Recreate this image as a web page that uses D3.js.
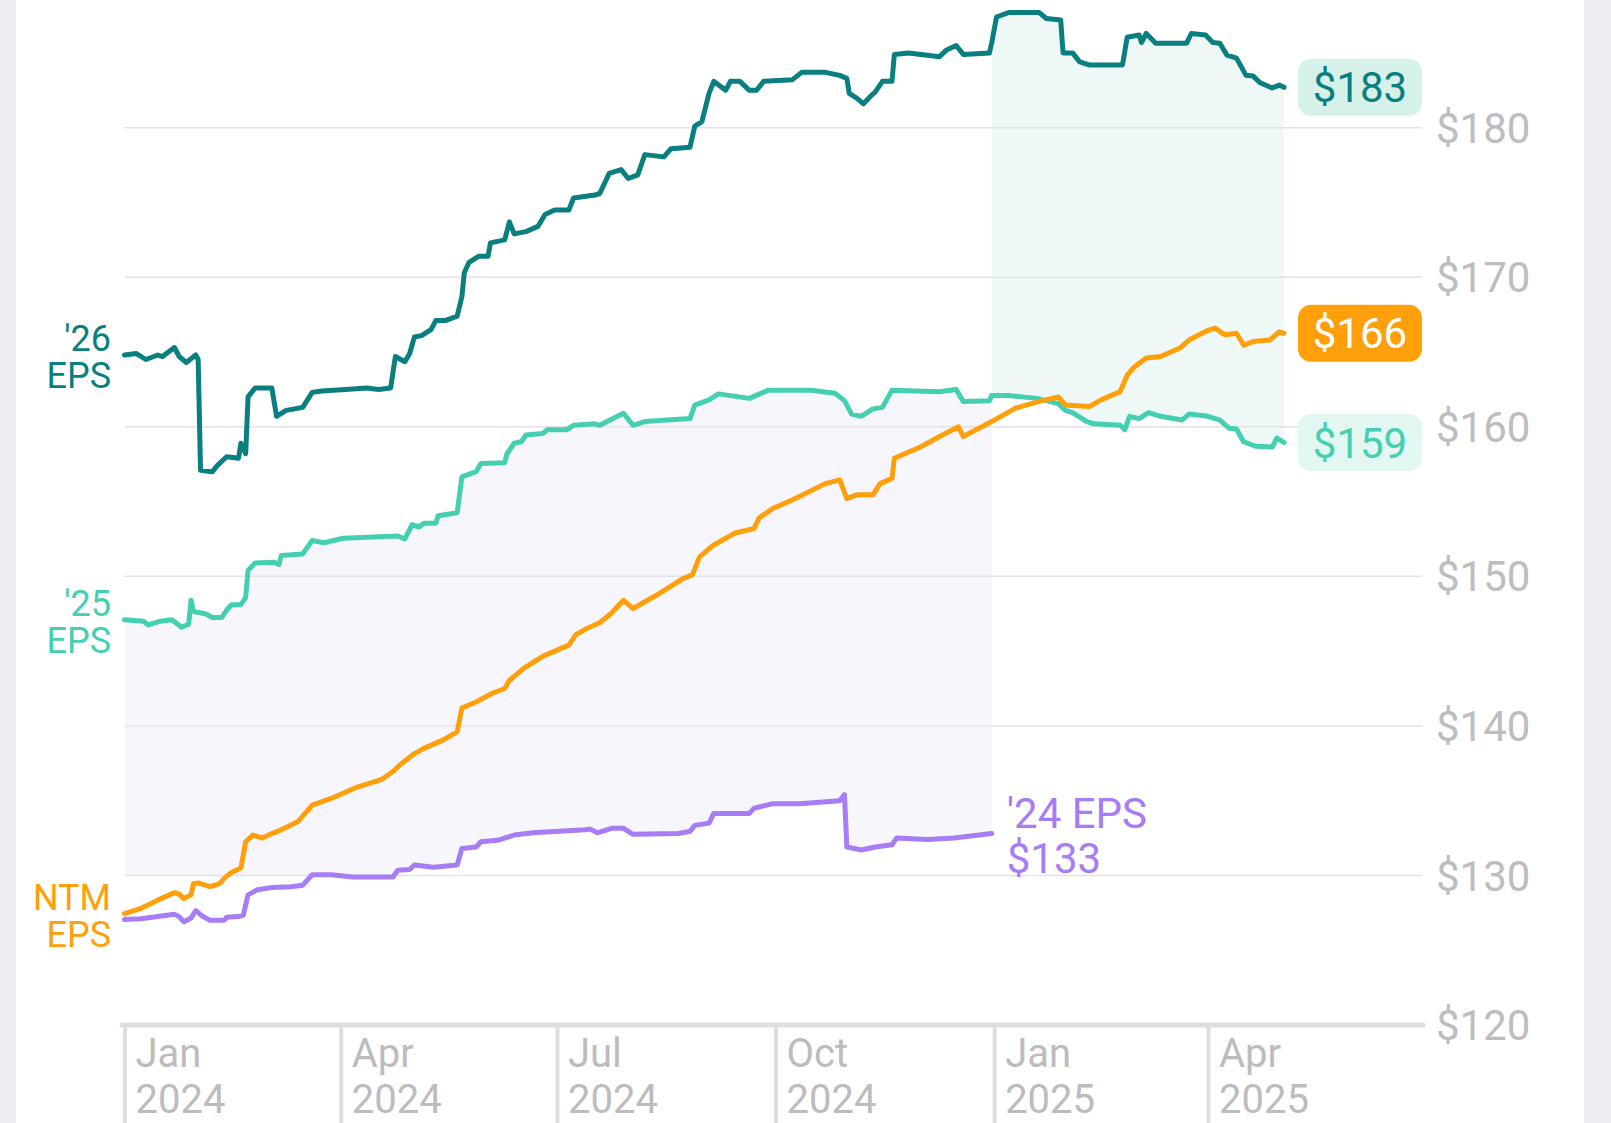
<!DOCTYPE html>
<html>
<head>
<meta charset="utf-8">
<script src="https://cdn.jsdelivr.net/npm/d3@7"></script>
<style>
  html, body { margin: 0; padding: 0; background: #fff; }
  svg { display: block; font-family: Roboto, "Noto Sans", sans-serif; }
</style>
</head>
<body>
<div id="chart"></div>
<script>

// FY2026 EPS estimate
const eps26 = [
  ["2024-01-01",164.8],["2024-01-06",164.9],["2024-01-10",164.5],["2024-01-15",164.8],["2024-01-17",164.7],
  ["2024-01-22",165.3],["2024-01-24",164.7],["2024-01-27",164.3],["2024-01-31",164.8],["2024-02-01",164.5],
  ["2024-02-02",157.1],["2024-02-07",157.0],["2024-02-09",157.4],["2024-02-13",158.0],["2024-02-18",157.9],
  ["2024-02-19",158.9],["2024-02-21",158.2],["2024-02-22",162.0],["2024-02-25",162.6],["2024-03-03",162.6],
  ["2024-03-05",160.7],["2024-03-09",161.1],["2024-03-16",161.3],["2024-03-20",162.3],["2024-03-24",162.4],
  ["2024-04-03",162.5],["2024-04-12",162.6],["2024-04-17",162.5],["2024-04-22",162.6],["2024-04-24",164.7],
  ["2024-04-28",164.35],["2024-04-30",164.9],["2024-05-02",166.0],["2024-05-05",166.1],["2024-05-09",166.5],
  ["2024-05-11",167.1],["2024-05-15",167.1],["2024-05-20",167.4],["2024-05-22",168.7],["2024-05-23",170.3],
  ["2024-05-25",171.0],["2024-05-29",171.4],["2024-06-02",171.4],["2024-06-03",172.3],["2024-06-09",172.5],
  ["2024-06-11",173.7],["2024-06-13",172.9],["2024-06-18",173.05],["2024-06-23",173.4],["2024-06-26",174.2],
  ["2024-06-30",174.5],["2024-07-06",174.5],["2024-07-08",175.3],["2024-07-17",175.5],["2024-07-19",175.6],
  ["2024-07-23",176.95],["2024-07-28",177.2],["2024-07-31",176.6],["2024-08-04",176.85],["2024-08-07",178.2],
  ["2024-08-15",178.05],["2024-08-18",178.6],["2024-08-26",178.7],["2024-08-28",180.1],["2024-08-31",180.4],
  ["2024-09-03",182.3],["2024-09-05",183.1],["2024-09-10",182.5],["2024-09-12",183.1],["2024-09-16",183.1],
  ["2024-09-20",182.5],["2024-09-23",182.5],["2024-09-26",183.1],["2024-10-08",183.2],["2024-10-12",183.7],
  ["2024-10-22",183.7],["2024-10-28",183.5],["2024-10-31",183.3],["2024-11-01",182.3],["2024-11-04",182.0],
  ["2024-11-07",181.6],["2024-11-10",182.1],["2024-11-12",182.4],["2024-11-15",183.1],["2024-11-19",183.1],
  ["2024-11-20",184.9],["2024-11-26",185.0],["2024-12-09",184.75],["2024-12-12",185.2],["2024-12-16",185.5],
  ["2024-12-19",184.9],["2024-12-30",185.0],["2024-12-31",185.7],["2025-01-02",187.4],["2025-01-07",187.7],
  ["2025-01-20",187.7],["2025-01-23",187.3],["2025-01-29",187.2],["2025-01-30",185.0],["2025-02-03",185.0],
  ["2025-02-06",184.4],["2025-02-10",184.2],["2025-02-24",184.2],["2025-02-26",186.05],["2025-03-03",186.2],
  ["2025-03-04",185.7],["2025-03-06",186.3],["2025-03-10",185.65],["2025-03-23",185.65],["2025-03-25",186.3],
  ["2025-03-31",186.2],["2025-04-03",185.7],["2025-04-06",185.65],["2025-04-09",184.85],["2025-04-13",184.65],
  ["2025-04-17",183.5],["2025-04-20",183.45],["2025-04-23",183.0],["2025-04-28",182.65],["2025-05-01",182.85],
  ["2025-05-03",182.7]
];

// FY2025 EPS estimate
const eps25 = [
  ["2024-01-01",147.1],["2024-01-09",147.0],["2024-01-11",146.75],["2024-01-16",147.0],["2024-01-21",147.1],
  ["2024-01-25",146.6],["2024-01-28",146.8],["2024-01-29",148.4],["2024-01-30",147.65],["2024-02-04",147.5],
  ["2024-02-07",147.25],["2024-02-11",147.25],["2024-02-13",147.75],["2024-02-15",148.1],["2024-02-19",148.1],
  ["2024-02-21",148.6],["2024-02-22",150.4],["2024-02-25",150.9],["2024-03-04",150.95],["2024-03-06",150.8],
  ["2024-03-07",151.4],["2024-03-16",151.5],["2024-03-20",152.4],["2024-03-25",152.25],["2024-04-02",152.55],
  ["2024-04-25",152.7],["2024-04-28",152.5],["2024-05-01",153.45],["2024-05-04",153.3],["2024-05-06",153.55],
  ["2024-05-11",153.55],["2024-05-12",154.05],["2024-05-20",154.25],["2024-05-22",156.65],["2024-05-28",157.0],
  ["2024-05-30",157.55],["2024-06-09",157.6],["2024-06-10",158.2],["2024-06-13",158.9],["2024-06-16",159.0],
  ["2024-06-18",159.45],["2024-06-25",159.55],["2024-06-27",159.8],["2024-07-05",159.8],["2024-07-08",160.1],
  ["2024-07-17",160.2],["2024-07-19",160.1],["2024-07-29",160.9],["2024-08-02",160.1],["2024-08-07",160.35],
  ["2024-08-26",160.55],["2024-08-28",161.45],["2024-09-03",161.8],["2024-09-07",162.2],["2024-09-20",161.9],
  ["2024-09-28",162.45],["2024-10-16",162.45],["2024-10-26",162.25],["2024-10-30",161.75],["2024-11-02",160.85],
  ["2024-11-06",160.7],["2024-11-11",161.2],["2024-11-15",161.3],["2024-11-19",162.45],["2024-12-09",162.35],
  ["2024-12-16",162.5],["2024-12-19",161.7],["2024-12-30",161.75],["2024-12-31",162.1],["2025-01-07",162.1],
  ["2025-01-19",161.9],["2025-01-28",161.55],["2025-01-31",161.1],["2025-02-03",160.95],["2025-02-09",160.35],
  ["2025-02-12",160.2],["2025-02-23",160.1],["2025-02-25",159.8],["2025-02-27",160.7],["2025-03-03",160.55],
  ["2025-03-07",160.95],["2025-03-12",160.7],["2025-03-21",160.45],["2025-03-24",160.85],["2025-04-01",160.7],
  ["2025-04-06",160.45],["2025-04-10",159.9],["2025-04-13",159.85],["2025-04-16",159.0],["2025-04-21",158.7],
  ["2025-04-28",158.65],["2025-04-30",159.25],["2025-05-03",158.95]
];

// next twelve months EPS
const epsNtm = [
  ["2024-01-01",127.45],["2024-01-08",127.8],["2024-01-15",128.35],["2024-01-22",128.85],["2024-01-24",128.75],
  ["2024-01-26",128.45],["2024-01-29",128.7],["2024-01-30",129.45],["2024-02-01",129.5],["2024-02-06",129.25],
  ["2024-02-10",129.45],["2024-02-12",129.8],["2024-02-15",130.2],["2024-02-19",130.5],["2024-02-21",132.25],
  ["2024-02-24",132.7],["2024-02-28",132.5],["2024-03-03",132.8],["2024-03-07",133.05],["2024-03-14",133.6],
  ["2024-03-20",134.7],["2024-03-28",135.15],["2024-04-07",135.85],["2024-04-18",136.4],["2024-04-23",136.95],
  ["2024-04-26",137.4],["2024-05-02",138.15],["2024-05-06",138.5],["2024-05-14",139.05],["2024-05-20",139.6],
  ["2024-05-22",141.2],["2024-05-28",141.6],["2024-06-04",142.2],["2024-06-09",142.5],["2024-06-11",143.05],
  ["2024-06-17",143.85],["2024-06-25",144.65],["2024-07-06",145.4],["2024-07-09",146.1],["2024-07-14",146.55],
  ["2024-07-19",146.9],["2024-07-24",147.55],["2024-07-29",148.4],["2024-08-02",147.85],["2024-08-07",148.3],
  ["2024-08-13",148.85],["2024-08-23",149.85],["2024-08-27",150.1],["2024-08-30",151.3],["2024-09-05",152.1],
  ["2024-09-14",152.9],["2024-09-22",153.2],["2024-09-24",153.9],["2024-09-30",154.55],["2024-10-08",155.1],
  ["2024-10-22",156.2],["2024-10-28",156.45],["2024-10-31",155.2],["2024-11-04",155.45],["2024-11-11",155.45],
  ["2024-11-14",156.2],["2024-11-19",156.55],["2024-11-20",157.9],["2024-12-01",158.65],["2024-12-09",159.35],
  ["2024-12-17",160.0],["2024-12-19",159.35],["2024-12-31",160.35],["2025-01-10",161.25],["2025-01-20",161.7],
  ["2025-01-28",162.0],["2025-01-31",161.45],["2025-02-10",161.35],["2025-02-15",161.8],["2025-02-23",162.35],
  ["2025-02-26",163.45],["2025-03-01",164.0],["2025-03-06",164.6],["2025-03-12",164.7],["2025-03-20",165.25],
  ["2025-03-24",165.8],["2025-04-01",166.45],["2025-04-04",166.6],["2025-04-08",166.15],["2025-04-13",166.25],
  ["2025-04-16",165.45],["2025-04-20",165.7],["2025-04-27",165.8],["2025-05-01",166.35],["2025-05-03",166.25]
];

// FY2024 EPS (ends with the fiscal year)
const eps24 = [
  ["2024-01-01",127.05],["2024-01-08",127.1],["2024-01-15",127.25],["2024-01-22",127.4],["2024-01-24",127.25],
  ["2024-01-26",126.9],["2024-01-29",127.15],["2024-01-31",127.65],["2024-02-03",127.25],["2024-02-06",127.0],
  ["2024-02-12",127.0],["2024-02-13",127.2],["2024-02-18",127.25],["2024-02-20",127.35],["2024-02-22",128.7],
  ["2024-02-26",129.05],["2024-03-03",129.2],["2024-03-11",129.25],["2024-03-16",129.35],["2024-03-20",130.05],
  ["2024-03-28",130.05],["2024-04-06",129.9],["2024-04-17",129.9],["2024-04-23",129.9],["2024-04-25",130.35],
  ["2024-04-30",130.4],["2024-05-02",130.7],["2024-05-10",130.55],["2024-05-20",130.7],["2024-05-22",131.8],
  ["2024-05-28",131.9],["2024-05-30",132.25],["2024-06-06",132.35],["2024-06-13",132.7],["2024-06-21",132.85],
  ["2024-07-13",133.05],["2024-07-15",133.1],["2024-07-18",132.85],["2024-07-24",133.15],["2024-07-29",133.15],
  ["2024-08-02",132.75],["2024-08-21",132.8],["2024-08-26",132.95],["2024-08-28",133.35],["2024-09-03",133.5],
  ["2024-09-05",134.15],["2024-09-20",134.15],["2024-09-22",134.5],["2024-09-30",134.8],["2024-10-11",134.8],
  ["2024-10-28",135.0],["2024-10-30",135.4],["2024-10-31",131.9],["2024-11-06",131.7],["2024-11-12",131.9],
  ["2024-11-19",132.05],["2024-11-21",132.5],["2024-12-04",132.4],["2024-12-15",132.5],["2024-12-31",132.8]
];

const yTicks = [120, 130, 140, 150, 160, 170, 180];
const xTickDates = ["2024-01-01","2024-04-01","2024-07-01","2024-10-01","2025-01-01","2025-04-01"];
const fyBreak = "2024-12-31";
const shadeFloor = 130;


const W = 1611, H = 1123;
const parse = d3.utcParse("%Y-%m-%d");
const prep = arr => arr.map(d => ({date: parse(d[0]), value: d[1]}));

const s26 = prep(eps26), s25 = prep(eps25), sNtm = prep(epsNtm), s24 = prep(eps24);
const breakDate = parse(fyBreak);

let x = d3.scaleUtc()
    .domain([parse("2024-01-01"), parse("2025-04-01")])
    .range([124.5, 1208]);

let y = d3.scaleLinear()
    .domain([120, 180])
    .range([1025, 127.7]);

let svg = d3.select("#chart")
    .append("svg")
    .attr("width", W)
    .attr("height", H);

// grey side strips of the card
svg.append("rect").attr("x", 0).attr("y", 0).attr("width", 16).attr("height", H).attr("fill", "#eeeef2");
svg.append("rect").attr("x", 1584).attr("y", 0).attr("width", W - 1584).attr("height", H).attr("fill", "#eeeef2");

// linear lookup of a series at any date
const bis = d3.bisector(d => d.date).left;
function valueAt(s, t) {
    let i = bis(s, t);
    if (i <= 0) return s[0].value;
    if (i >= s.length) return s[s.length - 1].value;
    let a = s[i - 1], b = s[i];
    let k = (t - a.date) / (b.date - a.date);
    return a.value + k * (b.value - a.value);
}

function mergedDates(a, b, from, to) {
    let ts = [...a, ...b].map(d => +d.date).filter(t => t >= +from && t <= +to);
    ts.push(+from, +to);
    return Array.from(new Set(ts)).sort((p, q) => p - q).map(t => new Date(t));
}

// FY2024 band: between '25 and '24 (floored)
let start = s25[0].date;
let band24 = mergedDates(s25, s24, start, breakDate);
svg.append("path")
    .datum(band24)
    .attr("fill", "#f8f6fd")
    .attr("d", d3.area()
        .x(d => x(d))
        .y0(d => y(Math.max(valueAt(s24, d), shadeFloor)))
        .y1(d => y(valueAt(s25, d))));

// FY2025 band: between '26 and '25
let end = s26[s26.length - 1].date;
let band25 = mergedDates(s26, s25, breakDate, end);
svg.append("path")
    .datum(band25)
    .attr("fill", "#eef8f6")
    .attr("d", d3.area()
        .x(d => x(d))
        .y0(d => y(valueAt(s25, d)))
        .y1(d => y(valueAt(s26, d))));

// gridlines
svg.append("g")
    .selectAll("line")
    .data(yTicks.filter(v => v > 120))
    .enter().append("line")
    .attr("x1", 125).attr("x2", 1422)
    .attr("y1", d => y(d)).attr("y2", d => y(d))
    .attr("stroke", "#e3e3e7")
    .attr("stroke-width", 1.5);

// y labels on the right
svg.append("g")
    .selectAll("text")
    .data(yTicks)
    .enter().append("text")
    .attr("x", 1436)
    .attr("y", d => y(d))
    .attr("dy", "0.36em")
    .attr("font-size", 42)
    .attr("fill", "#bdbdc1")
    .text(d => "$" + d);

// bottom axis
let xAxis = d3.axisBottom(x)
    .tickValues(xTickDates.map(parse))
    .tickSize(H - y(120))
    .tickFormat("");

let gx = svg.append("g")
    .attr("transform", "translate(0," + y(120) + ")")
    .call(xAxis);
gx.select(".domain").remove();
gx.selectAll(".tick line").attr("stroke", "#dedee0").attr("stroke-width", 4);

svg.append("line")
    .attr("x1", 122).attr("x2", 1423)
    .attr("y1", y(120)).attr("y2", y(120))
    .attr("stroke", "#dedee0")
    .attr("stroke-width", 5)
    .attr("stroke-linecap", "round");

let fmtMon = d3.utcFormat("%b"), fmtYear = d3.utcFormat("%Y");
let xl = svg.append("g")
    .selectAll("text")
    .data(xTickDates.map(parse))
    .enter().append("text")
    .attr("font-size", 40)
    .attr("fill", "#bcbcc0");
xl.append("tspan").attr("x", d => x(d) + 11).attr("y", 1067).text(d => fmtMon(d));
xl.append("tspan").attr("x", d => x(d) + 11).attr("y", 1113).text(d => fmtYear(d));

// series lines
const seriesStyle = [
    {s: s24, color: "#a77cf5"},
    {s: s25, color: "#45cfb1"},
    {s: s26, color: "#0a7f80"},
    {s: sNtm, color: "#ff9f0a"}
];

let line = d3.line().x(d => x(d.date)).y(d => y(d.value));
seriesStyle.forEach(o => {
    svg.append("path")
        .datum(o.s)
        .attr("fill", "none")
        .attr("stroke", o.color)
        .attr("stroke-width", 5)
        .attr("stroke-linejoin", "round")
        .attr("stroke-linecap", "round")
        .attr("d", line);
});

// left side labels, centred on the first value
const leftLabels = [
    {s: s26, lines: ["'26", "EPS"], color: "#0a7f80"},
    {s: s25, lines: ["'25", "EPS"], color: "#45cfb1"},
    {s: sNtm, lines: ["NTM", "EPS"], color: "#ff9f0a"}
];
leftLabels.forEach(o => {
    let c = y(o.s[0].value);
    let t = svg.append("text")
        .attr("text-anchor", "end")
        .attr("font-size", 36)
        .attr("fill", o.color);
    t.append("tspan").attr("x", 111).attr("y", c - 4).text(o.lines[0]);
    t.append("tspan").attr("x", 111).attr("y", c + 33).text(o.lines[1]);
});

// '24 label at its end
let last24 = s24[s24.length - 1];
let t24 = svg.append("text").attr("font-size", 42).attr("fill", "#a77cf5");
t24.append("tspan").attr("x", x(last24.date) + 15).attr("y", y(last24.value) - 6).text("'24 EPS");
t24.append("tspan").attr("x", x(last24.date) + 15).attr("y", y(last24.value) + 39).text("$" + Math.round(last24.value));

// value badges at the right end
const badges = [
    {s: s26, fill: "#d5f1ea", color: "#0a7f80"},
    {s: sNtm, fill: "#ff9f0a", color: "#ffffff"},
    {s: s25, fill: "#e3f7f2", color: "#45cfb1"}
];
badges.forEach(o => {
    let v = o.s[o.s.length - 1].value;
    let g = svg.append("g").attr("transform", "translate(1298," + y(v) + ")");
    g.append("rect")
        .attr("x", 0).attr("y", -28.5)
        .attr("width", 124).attr("height", 57)
        .attr("rx", 13)
        .attr("fill", o.fill);
    g.append("text")
        .attr("x", 62).attr("dy", "0.36em")
        .attr("text-anchor", "middle")
        .attr("font-size", 42)
        .attr("fill", o.color)
        .text("$" + Math.round(v));
});

</script>
</body>
</html>
